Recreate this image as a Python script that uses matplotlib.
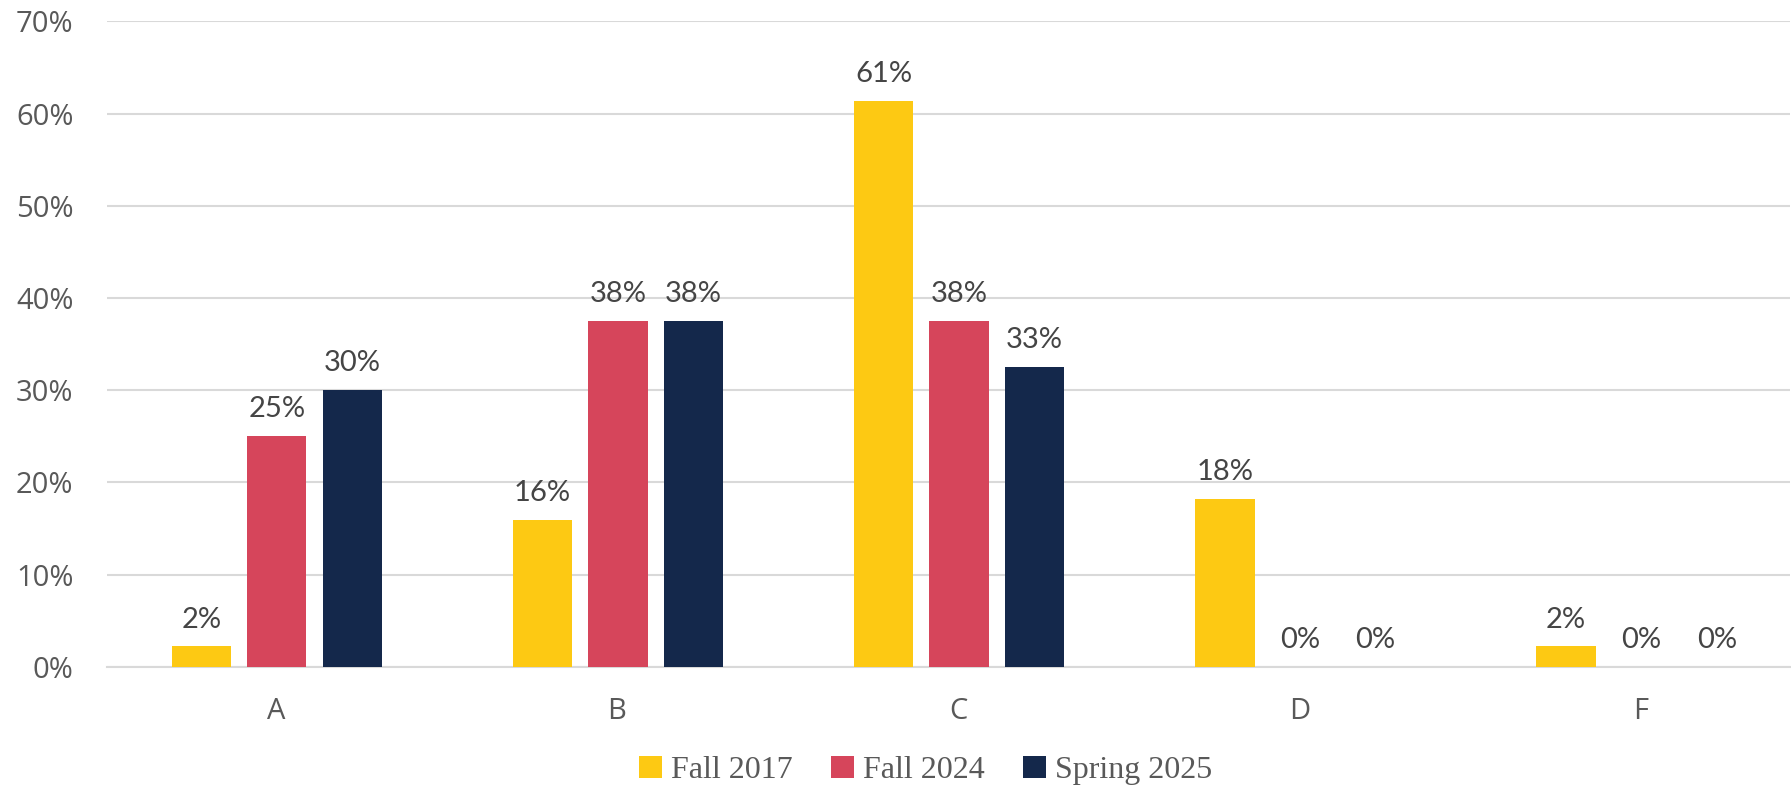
import numpy as np
import matplotlib.pyplot as plt
from matplotlib.ticker import PercentFormatter

# Данные
grades = ['A', 'B', 'C', 'D', 'F']
series_names = ['Fall 2017', 'Fall 2024', 'Spring 2025']
fall_2017 = [2.2, 15.9, 61.4, 18.2, 2.2]
fall_2024 = [25.0, 37.5, 37.5, 0.0, 0.0]
spring_2025 = [30.0, 37.5, 32.5, 0.0, 0.0]
colors = ['#FDC913', '#D6455B', '#14284B']

fig = plt.figure(figsize=(17.91, 7.90), dpi=100)
ax = fig.add_axes([0.0597, 0.156, 0.94, 0.817])

x = np.arange(len(grades))
width = 0.174
step = 0.221

for i, (vals, name, c) in enumerate(zip([fall_2017, fall_2024, spring_2025], series_names, colors)):
    pos = x + (i - 1) * step + 0.003
    bars = ax.bar(pos, vals, width=width, color=c, label=name, zorder=3)
    for b, v in zip(bars, vals):
        ax.text(b.get_x() + b.get_width() / 2, v + 1.5, f'{int(v + 0.5)}%',
                ha='center', va='bottom', fontsize=21, color='#454545',
                family='Lato', zorder=4)

ax.set_ylim(0, 70)
ax.set_xlim(-0.495, 4.44)
ax.set_yticks(range(0, 71, 10))
ax.yaxis.set_major_formatter(PercentFormatter(decimals=0))
ax.set_xticks(x)
ax.set_xticklabels(grades)
ax.grid(axis='y', color='#d9d9d9', linewidth=1.5, zorder=0)
for s in ['top', 'right', 'left']:
    ax.spines[s].set_visible(False)
ax.spines['bottom'].set_color('#d9d9d9')
ax.spines['bottom'].set_linewidth(1.5)
ax.tick_params(axis='both', length=0, labelsize=21, labelcolor='#595959')
ax.tick_params(axis='y', pad=24)
ax.tick_params(axis='x', pad=22)
for lbl in ax.get_xticklabels() + ax.get_yticklabels():
    lbl.set_family('Open Sans')

leg = fig.legend(loc='center', bbox_to_anchor=(0.517, 0.025), ncol=3, frameon=False,
                 prop={'family': 'Liberation Serif', 'size': 23},
                 handlelength=0.7, handleheight=0.7, handletextpad=0.3, columnspacing=1.2)
for t in leg.get_texts():
    t.set_color('#595959')

fig.savefig('out.png', dpi=100)
